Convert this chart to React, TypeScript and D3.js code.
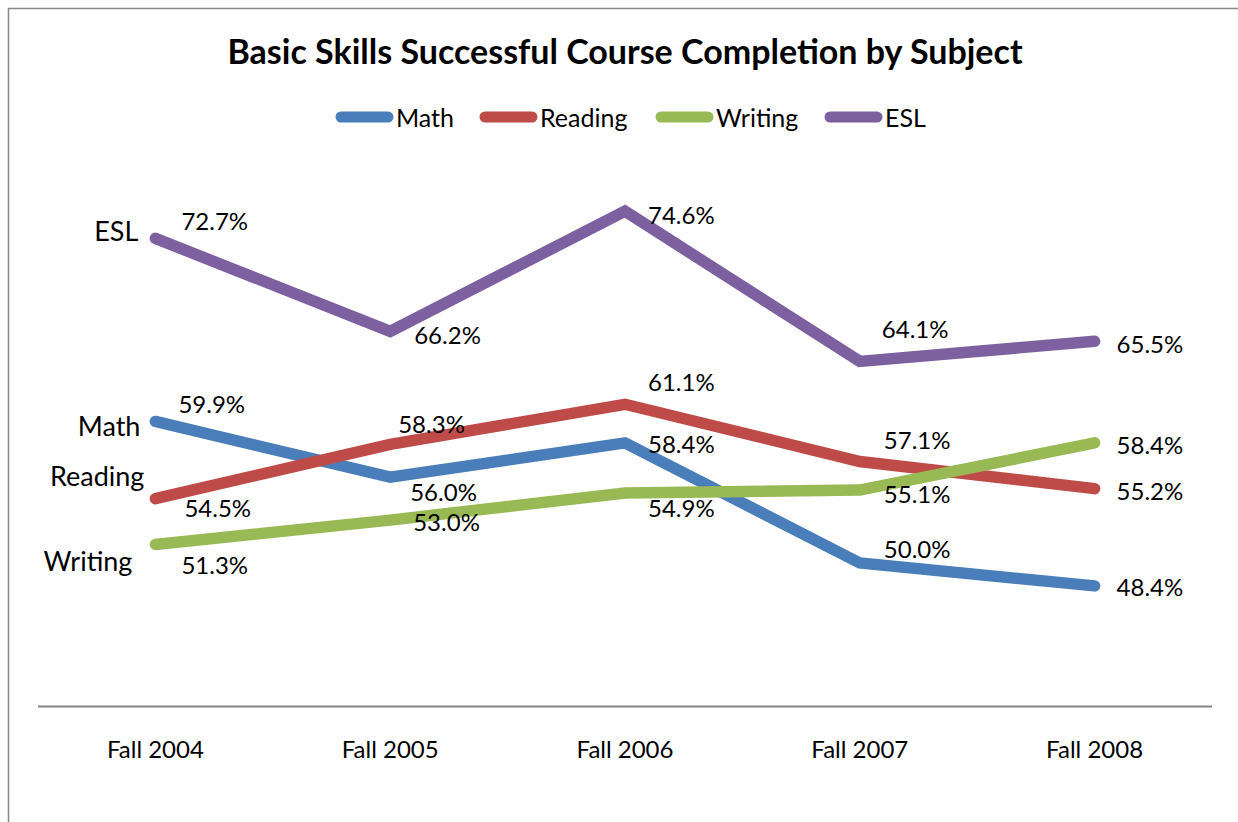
import React from 'react';
import * as d3 from 'd3';

// ---- data ----
const categories = ['Fall 2004', 'Fall 2005', 'Fall 2006', 'Fall 2007', 'Fall 2008'];
const seriesNames = ['Math', 'Reading', 'Writing', 'ESL'];
const mathValues = [59.9, 56.0, 58.4, 50.0, 48.4];
const readingValues = [54.5, 58.3, 61.1, 57.1, 55.2];
const writingValues = [51.3, 53.0, 54.9, 55.1, 58.4];
const eslValues = [72.7, 66.2, 74.6, 64.1, 65.5];
const yDomain = [40, 80];
const title = 'Basic Skills Successful Course Completion by Subject';

// ---- styles / layout ----
const seriesValues = [mathValues, readingValues, writingValues, eslValues];
const seriesColors = ['#4A7EBB', '#BE4B48', '#98B954', '#7D60A0'];
// data label offsets [dx from point to text left edge, dy from point to text centre]
const labelOffsets = [
  [[23, -18], [20, 14], [23, 1], [24, -15], [22, 1]],
  [[29, 9], [8, -21], [23, -23], [24, -22], [22, 2]],
  [[26, 20], [23, 1], [23, 15], [24, 3], [22, 2]],
  [[26, -18], [24, 3], [23, 3], [22, -33], [22, 2]],
];
// series name labels at left: [dx to text right edge, dy to text centre]
const nameOffsets = [[-15, 4], [-11, -23], [-23, 16], [-17, -8]];
const legendSwatchX = [336, 480, 656, 825];

const FONT = 'Lato, "Open Sans", sans-serif';
const W = 1238;
const H = 822;

export default function App() {
  const x = d3.scalePoint<string>().domain(categories).range([38, 1212]).padding(0.5);
  const y = d3.scaleLinear().domain(yDomain).range([706, 134]);
  const line = d3
    .line<number>()
    .x((_, i) => x(categories[i]) as number)
    .y((d) => y(d));

  return (
    <svg
      width={W}
      height={H}
      style={{ position: 'absolute', left: 0, top: 0, background: '#fff' }}
      fontFamily={FONT}
    >
      <rect x={0} y={0} width={W} height={H} fill="#fff" />
      {/* chart border */}
      <path d={`M8.5,${H} V8.5 H${W}`} fill="none" stroke="#898989" strokeWidth={1.5} />

      {/* title */}
      <text x={625} y={64} textAnchor="middle" fontSize={34} fontWeight={700} fill="#000">
        {title}
      </text>

      {/* legend */}
      {seriesNames.map((name, i) => (
        <g key={name}>
          <line
            x1={legendSwatchX[i] + 5}
            x2={legendSwatchX[i] + 52}
            y1={117}
            y2={117}
            stroke={seriesColors[i]}
            strokeWidth={11}
            strokeLinecap="round"
          />
          <text x={legendSwatchX[i] + 60} y={117} dominantBaseline="central" fontSize={25} fill="#000">
            {name}
          </text>
        </g>
      ))}

      {/* category axis */}
      <line x1={38} x2={1212} y1={706.5} y2={706.5} stroke="#868686" strokeWidth={2} />
      {categories.map((c) => (
        <text key={c} x={x(c)} y={748} textAnchor="middle" dominantBaseline="central" fontSize={24} fill="#000">
          {c}
        </text>
      ))}

      {/* series lines */}
      {seriesValues.map((vals, s) => (
        <path
          key={seriesNames[s]}
          d={line(vals) || ''}
          fill="none"
          stroke={seriesColors[s]}
          strokeWidth={11.5}
          strokeLinecap="round"
          strokeLinejoin="miter"
        />
      ))}

      {/* data labels */}
      {seriesValues.map((vals, s) =>
        vals.map((v, i) => (
          <text
            key={`${s}-${i}`}
            x={(x(categories[i]) as number) + labelOffsets[s][i][0]}
            y={y(v) + labelOffsets[s][i][1]}
            dominantBaseline="central"
            fontSize={24}
            fill="#000"
          >
            {v.toFixed(1)}%
          </text>
        ))
      )}

      {/* series names at left */}
      {seriesValues.map((vals, s) => (
        <text
          key={`name-${s}`}
          x={(x(categories[0]) as number) + nameOffsets[s][0]}
          y={y(vals[0]) + nameOffsets[s][1]}
          textAnchor="end"
          dominantBaseline="central"
          fontSize={27}
          fill="#000"
        >
          {seriesNames[s]}
        </text>
      ))}
    </svg>
  );
}
